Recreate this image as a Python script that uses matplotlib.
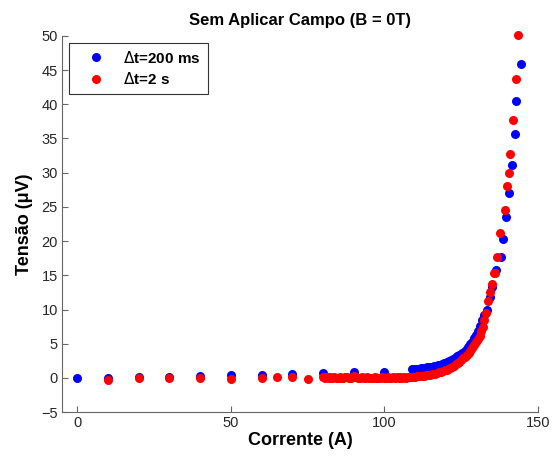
import matplotlib
matplotlib.use('Agg')
from matplotlib import pyplot as plt

plt.rcParams['font.family'] = ['Liberation Sans', 'DejaVu Sans']

# dados: corrente (A) e tensao (uV)
i_200ms = [0, 10, 20, 30, 40, 50, 60, 70, 80, 90, 100,
           109.0, 109.7, 110.4, 111.1, 111.8, 112.5, 113.2, 113.9, 114.6, 115.3,
           116.0, 116.7, 117.4, 118.1, 118.8, 119.5, 120.2, 120.9, 121.6, 122.3,
           123.0, 123.7, 124.4, 125.1, 125.8, 126.5, 127.2, 127.9, 128.5, 129.2,
           129.9, 130.6, 131.2, 131.7, 132.5, 133.4, 134.4, 135.0, 136.4, 137.9,
           138.5, 139.4, 140.5, 141.6, 142.4, 142.8, 144.4]
v_200ms = [0.0, 0.0, 0.15, 0.15, 0.3, 0.45, 0.5, 0.65, 0.7, 0.85, 0.9,
           1.3, 1.3, 1.35, 1.35, 1.4, 1.45, 1.5, 1.55, 1.6, 1.65,
           1.7, 1.75, 1.85, 1.95, 2.05, 2.15, 2.3, 2.45, 2.6, 2.75,
           2.95, 3.15, 3.35, 3.6, 3.85, 4.15, 4.5, 4.9, 5.3, 5.8,
           6.3, 6.9, 7.6, 8.5, 9.2, 10.0, 11.8, 13.3, 15.8, 17.7,
           20.3, 23.5, 27.1, 31.1, 35.6, 40.4, 45.9]

i_2s = [10, 20, 30, 40, 50, 60, 65, 70, 75,
        80.0, 80.6, 81.2, 81.8, 82.4, 83.0, 83.6, 84.2, 84.8, 85.4,
        86.0, 86.6, 87.2, 87.8, 88.4, 89.0, 89.6, 90.2, 90.8, 91.4,
        92.0, 92.6, 93.2, 93.8, 94.4, 95.0, 95.6, 96.2, 96.8, 97.4,
        98.0, 98.6, 99.2, 99.8, 100.4, 101.0, 101.6, 102.2, 102.8, 103.4,
        104.0, 104.6, 105.2, 105.8, 106.4, 107.0, 107.6, 108.2, 108.8, 109.4,
        110.0, 110.6, 111.2, 111.8, 112.4, 113.0, 113.6, 114.2, 114.8, 115.4,
        116.0, 116.6, 117.2, 117.8, 118.4, 119.0, 119.6, 120.2, 120.8, 121.4,
        122.0, 122.6, 123.2, 123.8, 124.4, 125.0, 125.6, 126.2, 126.8, 127.4,
        128.0, 128.6, 129.2, 129.8, 130.4, 131.0, 131.5, 132.0, 132.5, 133.0,
        133.6, 134.2, 135.0, 135.5, 135.9, 136.6, 137.7, 139.1, 139.9, 140.5,
        140.8, 141.9, 142.8, 143.5]
v_2s = [-0.3, 0.0, 0.0, 0.0, -0.2, 0.0, 0.1, 0.1, -0.2,
        0.1, 0.05, 0.1, 0.0, 0.1, 0.05, 0.1, 0.0, 0.05, 0.1,
        0.0, 0.05, 0.2, 0.1, 0.05, 0.0, 0.1, 0.25, 0.1, 0.0,
        0.05, 0.1, 0.0, 0.05, 0.1, 0.0, 0.05, 0.0, 0.1, 0.05,
        0.0, 0.05, 0.1, 0.0, 0.05, 0.1, 0.0, 0.05, 0.1, 0.05,
        0.1, 0.0, 0.1, 0.05, 0.1, 0.0, 0.1, 0.15, 0.1, 0.2,
        0.2, 0.25, 0.25, 0.3, 0.3, 0.35, 0.4, 0.45, 0.5, 0.55,
        0.6, 0.65, 0.7, 0.8, 0.9, 1.0, 1.1, 1.2, 1.35, 1.5,
        1.65, 1.8, 2.0, 2.2, 2.4, 2.6, 2.85, 3.1, 3.4, 3.7,
        4.0, 4.4, 4.8, 5.2, 5.7, 6.2, 6.8, 7.5, 8.4, 9.5,
        11.2, 12.5, 13.8, 15.3, 15.4, 17.7, 21.2, 24.6, 28.1, 30.0,
        32.8, 37.7, 43.7, 50.1]

xticks = [0, 50, 100, 150]
yticks = list(range(-5, 55, 5))

fig = plt.figure(figsize=(5.53, 4.59), dpi=100)
ax = fig.add_axes([0.112, 0.102, 0.861, 0.82])

ax.plot(i_200ms, v_200ms, 'o', color='#0000ff', markersize=6.5, markeredgewidth=0,
        label=r'$\Delta$t=200 ms', clip_on=False)
ax.plot(i_2s, v_2s, 'o', color='#ff0000', markersize=6.5, markeredgewidth=0,
        label=r'$\Delta$t=2 s', clip_on=False)

ax.set_xlim(-5, 150)
ax.set_ylim(-5, 50)
ax.set_xticks(xticks)
ax.set_yticks(yticks)

for s in ['top', 'right']:
    ax.spines[s].set_visible(False)
for s in ['left', 'bottom']:
    ax.spines[s].set_color('#666666')
    ax.spines[s].set_linewidth(0.8)
ax.tick_params(direction='in', length=4, width=0.8, color='#666666',
               labelsize=10.5, labelcolor='#262626', pad=3)

ax.set_title('Sem Aplicar Campo (B = 0T)', fontsize=12, fontweight='bold', pad=8)
ax.set_xlabel('Corrente (A)', fontsize=13, fontweight='bold', labelpad=1)
ax.set_ylabel('Tensão (μV)', fontsize=13, fontweight='bold', labelpad=6)

leg = ax.legend(loc='upper left', bbox_to_anchor=(0.015, 0.981), borderaxespad=0,
                fancybox=False, prop={'weight': 'bold', 'size': 11},
                handletextpad=0.5, borderpad=0.45, labelspacing=0.35,
                handlelength=2.6, framealpha=1)
leg.get_frame().set_edgecolor('#333333')
leg.get_frame().set_linewidth(0.8)

fig.savefig('out.png', dpi=100)
